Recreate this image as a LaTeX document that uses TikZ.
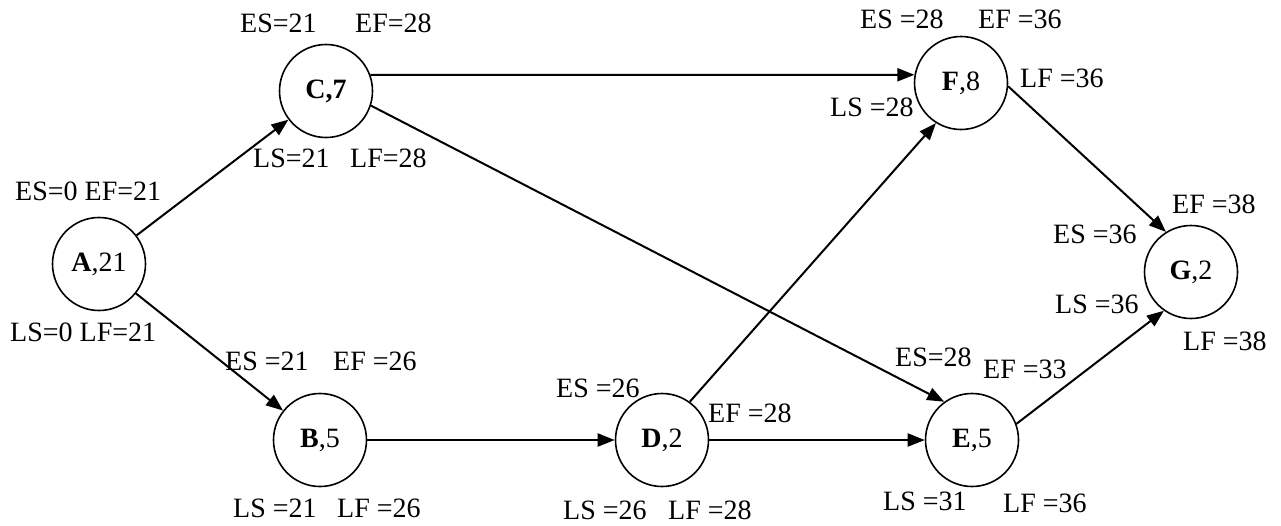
\documentclass[tikz,border=0pt]{standalone}
\usepackage{fontspec}
\setmainfont{Liberation Serif}
\usetikzlibrary{arrows.meta}
\begin{document}
\begin{tikzpicture}[x=1pt,y=-1pt,
  font=\fontsize{28}{34}\selectfont,
  act/.style={draw, circle, minimum size=93pt, inner sep=0pt, line width=1.6pt},
  lab/.style={anchor=base west, inner sep=0pt},
  conn/.style={line width=2pt, -{Triangle[length=17pt,width=13pt]}}]
\path[use as bounding box, fill=white] (0,0) rectangle (1281,525);
% activity nodes
\node[act] (A) at (99,264) {\textbf{A},21};
\node[act] (C) at (326,91) {\textbf{C,7}};
\node[act] (B) at (320,440) {\textbf{B},5};
\node[act] (D) at (662,440) {\textbf{D},2};
\node[act] (E) at (972,440) {\textbf{E},5};
\node[act] (F) at (961,83) {\textbf{F},8};
\node[act] (G) at (1191,272) {\textbf{G},2};
% connectors
\draw[conn] (A) -- (C);
\draw[conn] (A) -- (B);
\draw[conn] (C.20) -- (F.170);
\draw[conn] (C.-18) -- (E.126);
\draw[conn] (B) -- (D);
\draw[conn] (D) -- (E);
\draw[conn] (D.54) -- (F.238);
\draw[conn] (F.-4) -- (G.122);
\draw[conn] (E.20) -- (G.235);
% labels
\node[lab] (l1) at (240,32) {ES=21};
\node[lab] (l2) at (355,32) {EF=28};
\node[lab] (l3) at (253,167) {LS=21};
\node[lab] (l4) at (350,167) {LF=28};
\node[lab] (l5) at (15,200) {ES=0 EF=21};
\node[lab] (l6) at (10,341) {LS=0 LF=21};
\node[lab] (l7) at (225,370) {ES =21};
\node[lab] (l8) at (333,370) {EF =26};
\node[lab] (l9) at (233,517) {LS =21};
\node[lab] (l10) at (337,517) {LF =26};
\node[lab] (l11) at (556,397) {ES =26};
\node[lab] (l12) at (708,422) {EF =28};
\node[lab] (l13) at (563,519) {LS =26};
\node[lab] (l14) at (668,519) {LF =28};
\node[lab] (l15) at (860,28) {ES =28};
\node[lab] (l16) at (978,28) {EF =36};
\node[lab] (l17) at (1020,87) {LF =36};
\node[lab] (l18) at (830,116) {LS =28};
\node[lab] (l19) at (1172,213) {EF =38};
\node[lab] (l20) at (1053,243) {ES =36};
\node[lab] (l21) at (1055,313) {LS =36};
\node[lab] (l22) at (1183,350) {LF =38};
\node[lab] (l23) at (895,366) {ES=28};
\node[lab] (l24) at (983,378) {EF =33};
\node[lab] (l25) at (883,510) {LS =31};
\node[lab] (l26) at (1003,512) {LF =36};
\end{tikzpicture}
\end{document}
